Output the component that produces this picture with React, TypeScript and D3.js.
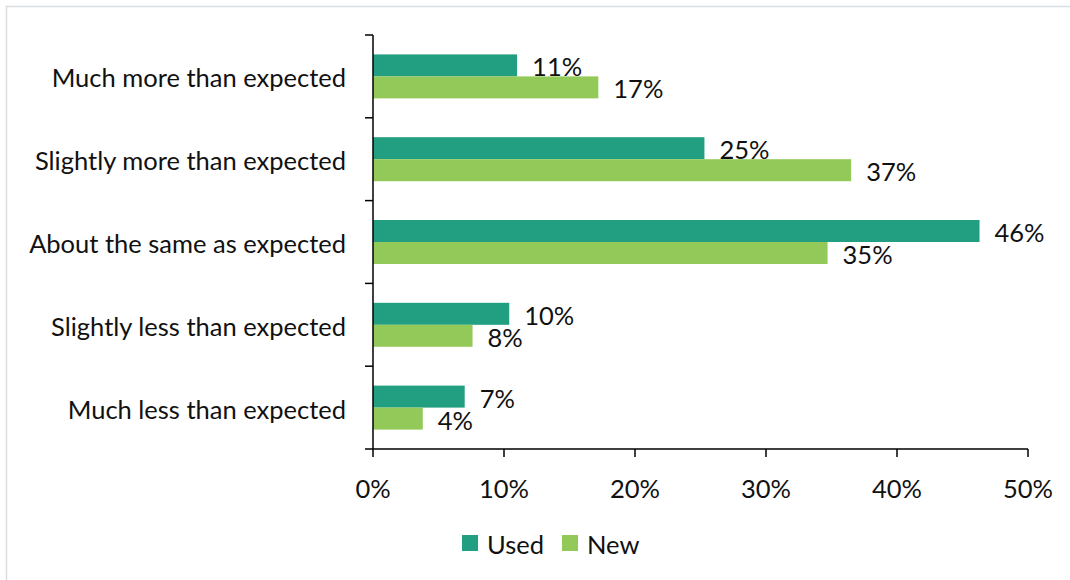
import React from "react";
import * as d3 from "d3";

const categories = [
  "Much more than expected",
  "Slightly more than expected",
  "About the same as expected",
  "Slightly less than expected",
  "Much less than expected",
];
const usedValues = [11.0, 25.3, 46.3, 10.4, 7.0];
const newValues = [17.2, 36.5, 34.7, 7.6, 3.8];
const xTicks = [0, 10, 20, 30, 40, 50];
const seriesNames = ["Used", "New"];
const seriesColors = ["#219f80", "#93c959"];

const W = 1070;
const H = 580;
const FONT = "Lato, 'Open Sans', sans-serif";
const FS = 25.5;

export default function App() {
  const x = d3.scaleLinear().domain([0, 50]).range([373, 1028]);
  const y = d3.scaleBand<string>().domain(categories).range([35, 449]).padding(0);
  const barH = 22;
  const boundaries = d3.range(categories.length + 1).map((i) => 35 + i * y.step());
  const series = [usedValues, newValues];

  return (
    <svg
      width={W}
      height={H}
      style={{ position: "absolute", left: 0, top: 0, background: "#fff" }}
      fontFamily={FONT}
    >
      <rect x={6.5} y={6.5} width={W} height={H} fill="#fff" stroke="#d9dde1" strokeWidth={1.5} />
      {categories.map((c, i) => {
        const cy = (y(c) ?? 0) + y.bandwidth() / 2;
        return (
          <g key={c}>
            <text x={346} y={cy + 1} textAnchor="end" dominantBaseline="central" fontSize={FS} fill="#111">
              {c}
            </text>
            {series.map((vals, s) => {
              const top = cy - barH + s * barH;
              return (
                <g key={s}>
                  <rect x={x(0)} y={top} width={x(vals[i]) - x(0)} height={barH} fill={seriesColors[s]} />
                  <text
                    x={x(vals[i]) + 15}
                    y={top + barH / 2 + 1}
                    dominantBaseline="central"
                    fontSize={FS}
                    fill="#111"
                  >
                    {Math.round(vals[i])}%
                  </text>
                </g>
              );
            })}
          </g>
        );
      })}
      {/* y axis */}
      <line x1={373} x2={373} y1={35} y2={449} stroke="#000" strokeWidth={1.5} />
      {boundaries.map((b, i) => (
        <line key={i} x1={365} x2={373} y1={b} y2={b} stroke="#000" strokeWidth={1.5} />
      ))}
      {/* x axis */}
      <line x1={x(0)} x2={x(50)} y1={449} y2={449} stroke="#000" strokeWidth={1.5} />
      {xTicks.map((t) => (
        <g key={t}>
          <line x1={x(t)} x2={x(t)} y1={449} y2={457} stroke="#000" strokeWidth={1.5} />
          <text x={x(t)} y={488} textAnchor="middle" dominantBaseline="central" fontSize={FS} fill="#111">
            {t}%
          </text>
        </g>
      ))}
      {/* legend */}
      {seriesNames.map((n, i) => (
        <g key={n} transform={`translate(${462 + i * 100},0)`}>
          <rect x={0} y={535} width={16} height={16} fill={seriesColors[i]} />
          <text x={25} y={544} dominantBaseline="central" fontSize={FS} fill="#111">
            {n}
          </text>
        </g>
      ))}
    </svg>
  );
}
